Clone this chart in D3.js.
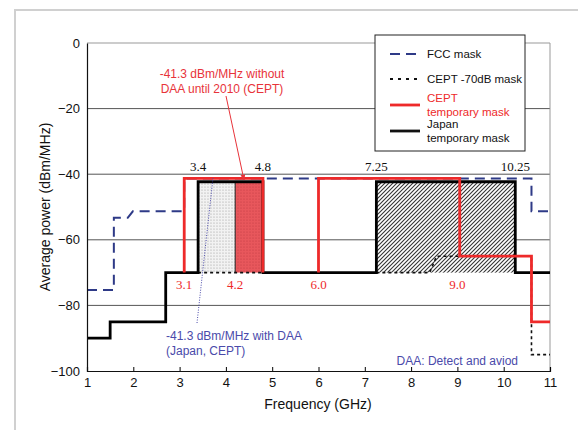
<!DOCTYPE html>
<html>
<head>
<meta charset="utf-8">
<script src="https://cdn.jsdelivr.net/npm/d3@7"></script>
<style>
body { margin: 0; background: #fff; }
svg { display: block; }
</style>
</head>
<body>
<div id="chart-area"></div>
<script>
// step masks, [GHz, dBm/MHz], null = gap
var fccFreq = [1, 1.58, 1.58, 1.88, 1.99, 3.1, 3.1, 10.6, 10.6, 11];
var fccPower = [-75.3, -75.3, -53.3, -53.3, -51.3, -51.3, -41.3, -41.3, -51.3, -51.3];

var ceptFreq = [3.1, 3.1, 4.8, 4.8, null, 6.0, 6.0, 9.05, 9.05, 10.6, 10.6, 11];
var ceptPower = [-70, -41.3, -41.3, -70, null, -70, -41.3, -41.3, -65, -65, -85, -85];

var japanFreq = [1, 1.5, 1.5, 2.7, 2.7, 3.4, 3.4, 4.8, 4.8, 7.25, 7.25, 10.25, 10.25, 11];
var japanPower = [-90, -90, -85, -85, -70, -70, -42.3, -42.3, -70, -70, -42.3, -42.3, -70, -70];

var cept70Freq = [3.4, 4.8, null, 7.25, 8.4, 8.55, 10.6, 10.6, 11];
var cept70Power = [-70, -70, null, -70, -70, -65, -65, -95, -95];

// shaded DAA bands
var bandStart = [3.4, 4.2, 7.25];
var bandEnd = [4.2, 4.8, 10.25];
var bandFill = ["url(#dots)", "url(#reddots)", "url(#hatch)"];

var blackMarks = ["3.4", "4.8", "7.25", "10.25"];
var redMarks = ["3.1", "4.2", "6.0", "9.0"];

var xTicks = [1, 2, 3, 4, 5, 6, 7, 8, 9, 10, 11];
var yTicks = [0, -20, -40, -60, -80, -100];

var width = 578, height = 430;
var plotLeft = 87, plotRight = 550, plotTop = 43, plotBottom = 371;

var svg = d3.select("#chart-area").append("svg")
    .attr("width", width)
    .attr("height", height)
    .style("font-family", "'Liberation Sans', Arial, sans-serif");

var x = d3.scaleLinear().domain([1, 11]).range([plotLeft, plotRight]);
var y = d3.scaleLinear().domain([-100, 0]).range([plotBottom, plotTop]);

var defs = svg.append("defs");

var dots = defs.append("pattern").attr("id", "dots")
    .attr("patternUnits", "userSpaceOnUse").attr("width", 3).attr("height", 3);
dots.append("rect").attr("width", 3).attr("height", 3).attr("fill", "#f2f2f2");
dots.append("circle").attr("cx", 1).attr("cy", 1).attr("r", 0.6).attr("fill", "#999");

var redDots = defs.append("pattern").attr("id", "reddots")
    .attr("patternUnits", "userSpaceOnUse").attr("width", 3).attr("height", 3);
redDots.append("rect").attr("width", 3).attr("height", 3).attr("fill", "#e8575c");
redDots.append("circle").attr("cx", 1).attr("cy", 1).attr("r", 0.6).attr("fill", "#c03a40");

var hatch = defs.append("pattern").attr("id", "hatch")
    .attr("patternUnits", "userSpaceOnUse").attr("width", 4).attr("height", 4);
hatch.append("rect").attr("width", 4).attr("height", 4).attr("fill", "#fff");
hatch.append("path").attr("d", "M-1,1 l2,-2 M0,4 l4,-4 M3,5 l2,-2")
    .attr("stroke", "#333").attr("stroke-width", 1.1);

defs.append("marker").attr("id", "arrow")
    .attr("viewBox", "0 0 10 10").attr("refX", 9).attr("refY", 5)
    .attr("markerWidth", 6).attr("markerHeight", 6).attr("orient", "auto")
  .append("path").attr("d", "M0,1 L10,5 L0,9 z").attr("fill", "#e8333a");

// outer frame
svg.append("rect")
    .attr("x", 15).attr("y", 10).attr("width", 600).attr("height", 450)
    .attr("fill", "none").attr("stroke", "#d0d0d0").attr("stroke-width", 2);

// grid + plot border
svg.append("g").selectAll("line").data(yTicks.filter(function(d) { return d > -100; }))
    .enter().append("line")
    .attr("x1", plotLeft).attr("x2", plotRight)
    .attr("y1", function(d) { return y(d); }).attr("y2", function(d) { return y(d); })
    .attr("stroke", function(d) { return d === 0 ? "#999" : "#555"; })
    .attr("stroke-width", 1);
svg.append("line").attr("x1", plotRight).attr("x2", plotRight)
    .attr("y1", plotTop).attr("y2", plotBottom)
    .attr("stroke", "#999");

// bands
svg.append("g").selectAll("rect").data(bandStart).enter().append("rect")
    .attr("x", function(d) { return x(d); })
    .attr("width", function(d, i) { return x(bandEnd[i]) - x(d); })
    .attr("y", y(-42.3))
    .attr("height", y(-70) - y(-42.3))
    .attr("fill", function(d, i) { return bandFill[i]; });
svg.append("line").attr("x1", x(4.2)).attr("x2", x(4.2)).attr("y1", y(-42.3)).attr("y2", y(-70))
    .attr("stroke", "#222").attr("stroke-width", 1);

function stepLine(fx, fy) {
    return d3.line()
        .defined(function(d, i) { return fx[i] !== null; })
        .x(function(d, i) { return x(fx[i]); })
        .y(function(d, i) { return y(fy[i]); })(fx);
}

svg.append("path").attr("d", stepLine(cept70Freq, cept70Power))
    .attr("fill", "none").attr("stroke", "#111").attr("stroke-width", 1.6)
    .attr("stroke-dasharray", "3,3");

svg.append("path").attr("d", stepLine(fccFreq, fccPower))
    .attr("fill", "none").attr("stroke", "#2e3a87").attr("stroke-width", 2)
    .attr("stroke-dasharray", "10,6");

svg.append("path").attr("d", stepLine(japanFreq, japanPower))
    .attr("fill", "none").attr("stroke", "#000").attr("stroke-width", 2.8);

svg.append("path").attr("d", stepLine(ceptFreq, ceptPower))
    .attr("fill", "none").attr("stroke", "#ee2a2a").attr("stroke-width", 2.8);

// axes
var xAxis = svg.append("g").attr("transform", "translate(0," + plotBottom + ")")
    .call(d3.axisBottom(x).tickValues(xTicks).tickSize(-4).tickPadding(7));
var yAxis = svg.append("g").attr("transform", "translate(" + plotLeft + ",0)")
    .call(d3.axisLeft(y).tickValues(yTicks).tickSize(0).tickPadding(7)
        .tickFormat(function(d) { return d < 0 ? "\u2212" + (-d) : d; }));
[xAxis, yAxis].forEach(function(a) {
    a.select(".domain").attr("stroke", "#111").attr("stroke-width", 1.2);
    a.selectAll("text").attr("font-size", "13px").attr("fill", "#111")
        .attr("font-family", "'Liberation Sans', Arial, sans-serif");
});

svg.append("text").attr("x", 318).attr("y", 409)
    .attr("text-anchor", "middle").attr("font-size", "14px").attr("fill", "#111")
    .text("Frequency (GHz)");
svg.append("text").attr("transform", "translate(50," + 207 + ") rotate(-90)")
    .attr("text-anchor", "middle").attr("font-size", "14px").attr("fill", "#111")
    .text("Average power (dBm/MHz)");

// frequency marks
svg.append("g").selectAll("text").data(blackMarks).enter().append("text")
    .attr("x", function(d) { return x(+d); }).attr("y", 171)
    .attr("text-anchor", "middle").attr("font-size", "13px")
    .attr("font-family", "'Liberation Serif', serif").attr("fill", "#111")
    .text(function(d) { return d; });
svg.append("g").selectAll("text").data(redMarks).enter().append("text")
    .attr("x", function(d) { return x(+d); }).attr("y", 289)
    .attr("text-anchor", "middle").attr("font-size", "13px")
    .attr("font-family", "'Liberation Serif', serif").attr("fill", "#ee2a2a")
    .text(function(d) { return d; });

// annotations
var redNote = svg.append("text").attr("font-size", "12px").attr("fill", "#e8333a")
    .attr("text-anchor", "middle");
redNote.append("tspan").attr("x", 222).attr("y", 78).text("-41.3 dBm/MHz without");
redNote.append("tspan").attr("x", 222).attr("y", 93).text("DAA until 2010 (CEPT)");
svg.append("line").attr("x1", 226).attr("y1", 96).attr("x2", 244).attr("y2", 180)
    .attr("stroke", "#e8333a").attr("stroke-width", 1).attr("marker-end", "url(#arrow)");

var blueNote = svg.append("text").attr("font-size", "12px").attr("fill", "#4a4aaa");
blueNote.append("tspan").attr("x", 166).attr("y", 340).text("-41.3 dBm/MHz with DAA");
blueNote.append("tspan").attr("x", 166).attr("y", 355).text("(Japan, CEPT)");
svg.append("line").attr("x1", 197).attr("y1", 323).attr("x2", 213).attr("y2", 178)
    .attr("stroke", "#4a4aaa").attr("stroke-width", 1).attr("stroke-dasharray", "1,1.5");

svg.append("text").attr("x", 518).attr("y", 365).attr("text-anchor", "end")
    .attr("font-size", "12px").attr("fill", "#4a4aaa").text("DAA: Detect and aviod");

// legend
var legend = svg.append("g");
legend.append("rect").attr("x", 375).attr("y", 35).attr("width", 150).attr("height", 116)
    .attr("fill", "#fff").attr("stroke", "#222").attr("stroke-width", 1);
var legendItems = [
    {y: 54, stroke: "#2e3a87", dash: "10,6", w: 2.2, lines: ["FCC mask"], color: "#111"},
    {y: 79, stroke: "#111", dash: "3,5", w: 1.8, lines: ["CEPT -70dB mask"], color: "#111"},
    {y: 105, stroke: "#ee2a2a", dash: null, w: 2.8, lines: ["CEPT", "temporary mask"], color: "#ee2a2a"},
    {y: 131, stroke: "#111", dash: null, w: 2.8, lines: ["Japan", "temporary mask"], color: "#111"}
];
legendItems.forEach(function(d) {
    legend.append("line").attr("x1", 390).attr("x2", 420).attr("y1", d.y).attr("y2", d.y)
        .attr("stroke", d.stroke).attr("stroke-width", d.w)
        .attr("stroke-dasharray", d.dash);
    var t = legend.append("text").attr("font-size", "11.5px").attr("fill", d.color);
    d.lines.forEach(function(s, i) {
        t.append("tspan").attr("x", 427)
            .attr("y", d.y + 4 + (d.lines.length === 2 ? (i === 0 ? -7 : 7) : 0))
            .text(s);
    });
});
</script>
</body>
</html>
